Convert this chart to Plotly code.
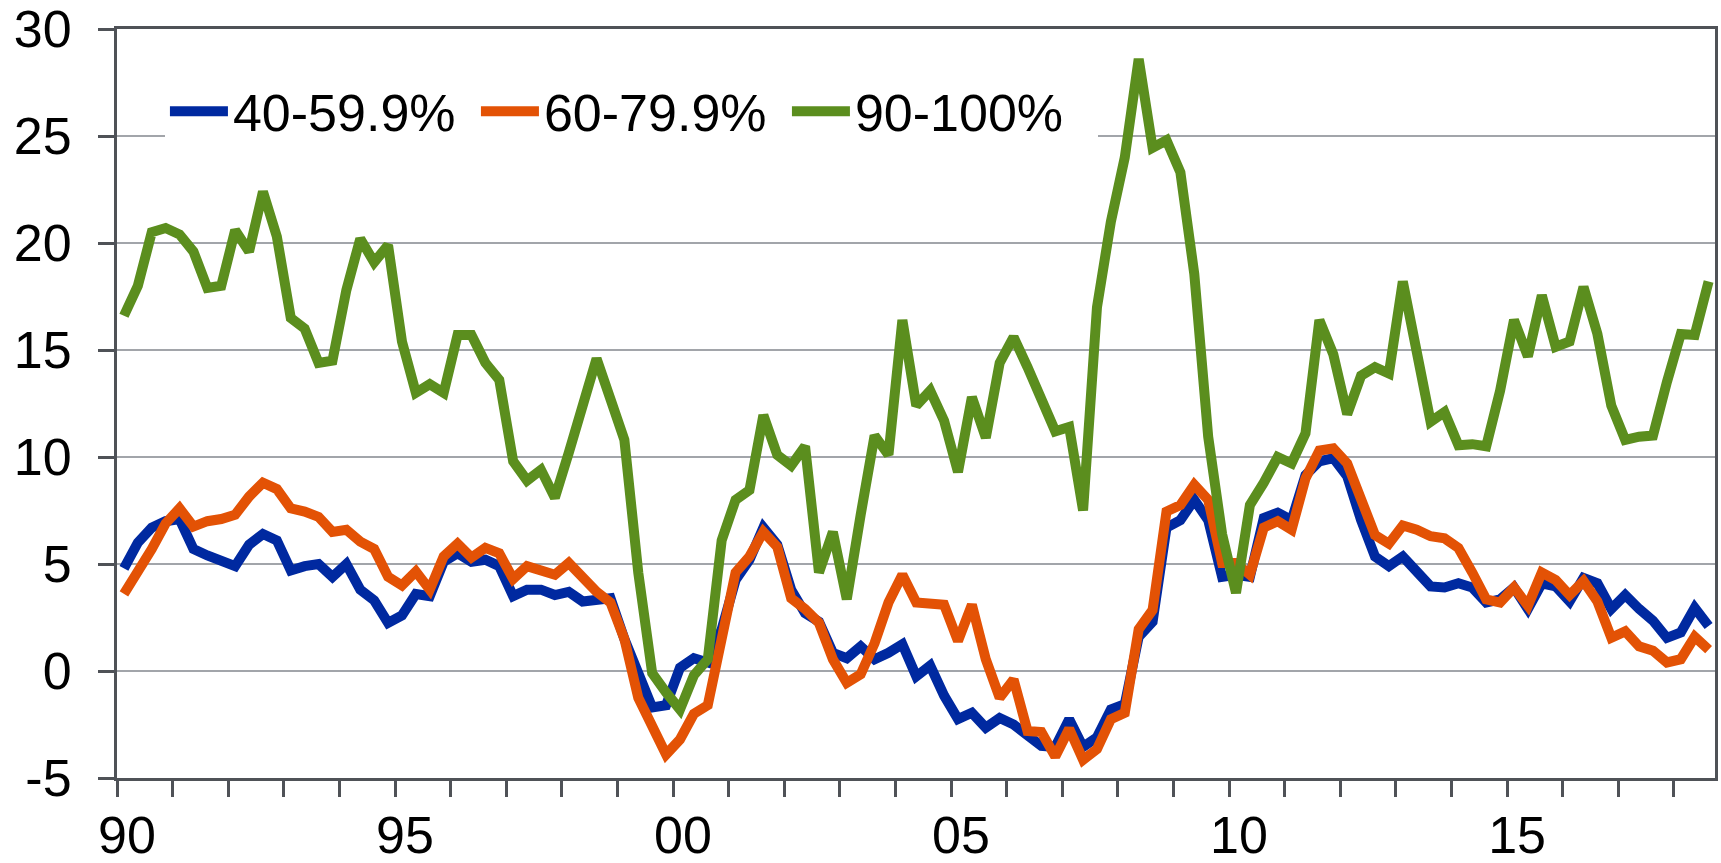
import plotly.graph_objects as go

# ---------------- data ----------------
quarters = [f"{y}Q{q}" for y in range(1990, 2019) for q in range(1, 5)][:115]

s40 = [4.8, 6.0, 6.7, 7.0, 7.1, 5.7, 5.4, 5.2, 4.9, 5.9,
       6.4, 6.1, 4.7, 4.9, 5.0, 4.4, 5.0, 3.8, 3.3, 2.25,
       2.6, 3.6, 3.5, 5.1, 5.5, 5.1, 5.2, 4.9, 3.5, 3.8,
       3.8, 3.55, 3.7, 3.25, 3.3, 3.4, 1.5, -0.1, -1.7, -1.6,
       0.15, 0.6, 0.4, 1.95, 4.25, 5.2, 6.7, 5.9, 3.8, 2.7,
       2.3, 0.85, 0.6, 1.15, 0.55, 0.85, 1.25, -0.25, 0.25, -1.15,
       -2.25, -1.95, -2.65, -2.2, -2.5, -3.0, -3.5, -3.55, -2.25, -3.55,
       -3.1, -1.8, -1.55, 1.6, 2.3, 6.7, 7.05, 8.0, 7.05, 4.4,
       4.5, 4.4, 7.15, 7.4, 7.05, 9.15, 9.8, 9.95, 9.1, 7.05,
       5.35, 4.9, 5.35, 4.65, 3.95, 3.9, 4.1, 3.9, 3.2, 3.35,
       3.9, 2.9, 4.1, 3.95, 3.25, 4.35, 4.1, 2.9, 3.55, 2.9,
       2.35, 1.55, 1.8, 2.95, 2.1]

s60 = [3.6, 4.6, 5.7, 6.9, 7.6, 6.75, 7.0, 7.1, 7.3, 8.15,
       8.8, 8.5, 7.6, 7.45, 7.2, 6.5, 6.6, 6.05, 5.7, 4.4,
       4.0, 4.65, 3.8, 5.35, 5.95, 5.3, 5.75, 5.5, 4.3, 4.9,
       4.75, 4.5, 5.05, 4.3, 3.7, 3.2, 1.5, -1.25, -2.65, -3.9,
       -3.2, -2.0, -1.6, 1.6, 4.6, 5.35, 6.5, 5.8, 3.4, 2.9,
       2.25, 0.55, -0.55, -0.15, 1.3, 3.2, 4.5, 3.2, 3.1, 3.1,
       1.4, 3.1, 0.55, -1.25, -0.4, -2.8, -2.85, -4.0, -2.7, -4.15,
       -3.65, -2.25, -1.95, 1.95, 2.85, 7.45, 7.75, 8.7, 8.0, 5.05,
       5.05, 4.5, 6.7, 7.0, 6.6, 9.0, 10.3, 10.4, 9.7, 7.9,
       6.35, 5.95, 6.8, 6.6, 6.3, 6.2, 5.75, 4.6, 3.35, 3.2,
       3.9, 3.05, 4.6, 4.25, 3.55, 4.2, 3.25, 1.55, 1.85, 1.15,
       0.95, 0.4, 0.55, 1.6, 1.0]

s90 = [16.6, 18.0, 20.5, 20.7, 20.4, 19.6, 17.9, 18.0, 20.6, 19.6,
       22.4, 20.3, 16.5, 16.0, 14.4, 14.5, 17.8, 20.2, 19.1, 19.9,
       15.4, 13.0, 13.4, 13.0, 15.7, 15.7, 14.4, 13.6, 9.8, 8.9,
       9.4, 8.1, 10.2, 12.6, 14.6, 12.7, 10.8, 4.6, -0.1, -1.0,
       -1.8, -0.2, 0.55, 6.1, 8.0, 8.45, 11.95, 10.1, 9.6, 10.5,
       4.6, 6.5, 3.35, 7.3, 11.0, 10.1, 16.4, 12.4, 13.1, 11.7,
       9.3, 12.8, 10.9, 14.4, 15.6, 14.2, 12.8, 11.2, 11.4, 7.5,
       17.0, 21.0, 24.0, 28.6, 24.45, 24.8, 23.3, 18.55, 10.95, 6.4,
       3.65, 7.75, 8.8, 10.0, 9.7, 11.1, 16.4, 14.8, 12.0, 13.8,
       14.2, 13.9, 18.2, 15.2, 11.65, 12.1, 10.55, 10.6, 10.5, 13.1,
       16.4, 14.7, 17.55, 15.15, 15.4, 17.95, 15.75, 12.4, 10.8, 10.95,
       11.0, 13.5, 15.75, 15.7, 18.2]

series_names = ["40-59.9%", "60-79.9%", "90-100%"]
series_colors = ["#0029A0", "#E35205", "#5B8E1E"]

x_tick_years = list(range(1990, 2019))
x_tick_labels = [("%02d" % (y % 100)) if y % 5 == 0 else "" for y in x_tick_years]
y_tick_vals = [-5, 0, 5, 10, 15, 20, 25, 30]
y_tick_labels = ["-5", "0", "5", "10", "15", "20", "25", "30"]


def quarter_pos(q):
    yr, n = q.split("Q")
    return int(yr) + (int(n) - 0.5) / 4.0


x = [quarter_pos(q) for q in quarters]

# ---------------- figure ----------------
AX = "#4f5257"
GRID = "#a2a5aa"
FONT = "Liberation Sans, Arial, Helvetica, sans-serif"

fig = go.Figure()
for name, vals, color in zip(series_names, [s40, s60, s90], series_colors):
    fig.add_trace(go.Scatter(x=x, y=vals, mode="lines", name=name,
                             line=dict(color=color, width=10)))

xr = [1990, 2018.74]
yr = [-5, 30]

fig.update_layout(
    width=1721, height=863,
    margin=dict(l=117, r=6, t=29, b=85),
    paper_bgcolor="white", plot_bgcolor="white",
    font=dict(family=FONT, size=52, color="black"),
    showlegend=True,
    legend=dict(orientation="h", x=0.030, y=0.89, xanchor="left", yanchor="middle",
                bgcolor="white", font=dict(family=FONT, size=52, color="black"),
                itemwidth=58, entrywidth=238, entrywidthmode="pixels",
                borderwidth=0, tracegroupgap=0),
    xaxis=dict(range=xr, tickmode="array", tickvals=x_tick_years, ticktext=x_tick_labels,
               ticks="outside", ticklen=16, tickwidth=3, tickcolor=AX,
               showline=True, linecolor=AX, linewidth=3, mirror=True,
               showgrid=False, zeroline=False, automargin=False,
               ticklabelstandoff=-6, ticklabelshift=10,
               tickfont=dict(family=FONT, size=52, color="black")),
    yaxis=dict(range=yr, tickmode="array", tickvals=y_tick_vals, ticktext=y_tick_labels,
               ticks="outside", ticklen=16, tickwidth=3, tickcolor=AX,
               showline=True, linecolor=AX, linewidth=3, mirror=True,
               showgrid=True, gridcolor=GRID, gridwidth=2, zeroline=False,
               automargin=False, ticklabelstandoff=16,
               tickfont=dict(family=FONT, size=52, color="black")),
    xaxis2=dict(overlaying="x", anchor="y", side="bottom", range=xr,
                tickmode="array", tickvals=x_tick_years, ticks="inside", ticklen=16,
                tickwidth=3, tickcolor=AX, showticklabels=False, showline=False,
                showgrid=False, zeroline=False),
    yaxis2=dict(overlaying="y", anchor="x", side="left", range=yr,
                tickmode="array", tickvals=y_tick_vals, ticks="inside", ticklen=16,
                tickwidth=3, tickcolor=AX, showticklabels=False, showline=False,
                showgrid=False, zeroline=False),
)

fig.write_html("out.html",
               config={"displayModeBar": False},
               post_script="document.body.style.margin='0';document.body.style.padding='0';"
                           "document.documentElement.style.overflow='hidden';")
